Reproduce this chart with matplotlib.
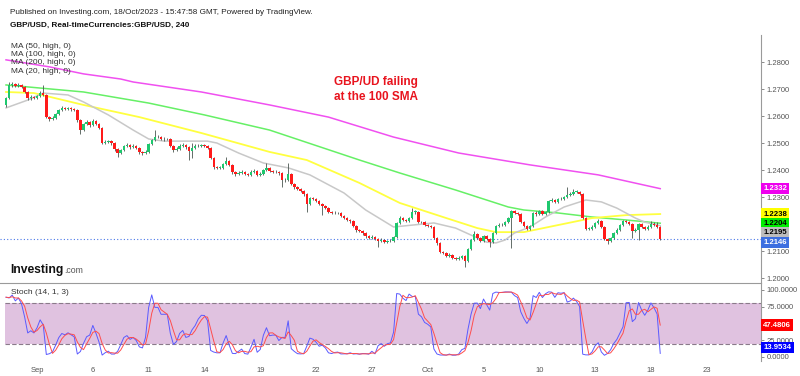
import numpy as np
import pandas as pd
import matplotlib
matplotlib.use("Agg")
import matplotlib.pyplot as plt
import matplotlib.transforms as mtransforms

plt.rcParams['font.family'] = ['Liberation Sans', 'DejaVu Sans']

# GBP/USD 4h candles, values in pips above 1.2000 (price = 1.2 + v / 10000)
first_open_pips = 642
close_pips = [
    668, 716, 720, 712, 716, 708, 690, 668, 671, 668,
    675, 686, 679, 597, 590, 594, 608, 623, 631, 627,
    631, 627, 623, 586, 549, 571, 579, 568, 583, 571,
    557, 501, 505, 508, 501, 479, 464, 475, 490, 494,
    486, 490, 483, 468, 464, 468, 497, 512, 523, 523,
    516, 516, 516, 490, 475, 479, 490, 494, 486, 472,
    483, 490, 490, 494, 490, 483, 446, 412, 409, 409,
    423, 434, 420, 394, 386, 390, 394, 386, 383, 394,
    397, 383, 386, 401, 409, 397, 394, 394, 390, 364,
    364, 386, 349, 338, 331, 323, 312, 275, 297, 294,
    286, 275, 268, 260, 246, 242, 242, 242, 231, 223,
    216, 212, 194, 179, 175, 168, 157, 149, 153, 146,
    138, 142, 135, 138, 138, 153, 205, 223, 216, 212,
    223, 246, 246, 208, 208, 197, 194, 190, 149, 131,
    97, 94, 83, 86, 75, 72, 75, 83, 64, 108,
    142, 164, 149, 138, 157, 146, 135, 168, 194, 197,
    197, 208, 223, 249, 242, 238, 208, 194, 183, 194,
    242, 238, 249, 238, 246, 286, 290, 283, 294, 294,
    301, 309, 312, 320, 320, 312, 223, 183, 183, 190,
    205, 212, 190, 146, 138, 149, 168, 179, 197, 212,
    208, 201, 175, 179, 201, 190, 183, 190, 201, 197,
    190, 146,
]
high_pips = [
    672, 727, 727, 725, 722, 720, 712, 694, 678, 676,
    680, 692, 716, 683, 600, 600, 612, 628, 638, 636,
    635, 634, 632, 627, 590, 576, 586, 584, 590, 587,
    575, 560, 512, 514, 512, 505, 484, 480, 495, 500,
    498, 497, 495, 487, 472, 474, 502, 517, 549, 530,
    528, 522, 521, 520, 494, 485, 496, 500, 498, 490,
    500, 496, 496, 499, 498, 495, 487, 450, 416, 415,
    428, 449, 438, 424, 398, 396, 400, 398, 390, 400,
    403, 401, 392, 406, 427, 413, 402, 400, 398, 394,
    370, 427, 390, 353, 343, 336, 327, 316, 302, 301,
    298, 290, 279, 272, 264, 250, 248, 247, 246, 235,
    227, 220, 216, 198, 184, 179, 172, 161, 159, 157,
    150, 148, 146, 143, 144, 158, 210, 230, 228, 220,
    228, 260, 252, 250, 213, 212, 201, 198, 194, 153,
    135, 101, 98, 92, 90, 80, 81, 88, 88, 112,
    147, 175, 168, 153, 162, 161, 150, 173, 199, 203,
    203, 213, 228, 254, 253, 246, 242, 212, 198, 199,
    247, 248, 254, 253, 251, 291, 296, 294, 299, 300,
    306, 338, 318, 331, 326, 324, 316, 227, 189, 196,
    210, 218, 216, 194, 150, 154, 173, 185, 202, 217,
    216, 212, 205, 185, 206, 205, 194, 196, 212, 210,
    210, 194,
]
low_pips = [
    635, 664, 710, 707, 708, 703, 685, 662, 660, 663,
    664, 671, 674, 592, 583, 586, 590, 604, 619, 622,
    622, 621, 618, 580, 534, 545, 566, 562, 564, 566,
    552, 497, 496, 500, 495, 472, 449, 460, 470, 485,
    480, 482, 478, 462, 458, 460, 465, 492, 508, 518,
    511, 510, 511, 485, 468, 470, 475, 486, 480, 438,
    446, 478, 485, 486, 485, 478, 440, 405, 403, 404,
    405, 420, 415, 388, 380, 382, 386, 381, 378, 380,
    390, 378, 379, 382, 397, 392, 389, 389, 384, 338,
    358, 360, 344, 330, 326, 318, 306, 246, 270, 289,
    281, 270, 234, 255, 240, 237, 237, 238, 226, 218,
    211, 206, 189, 173, 170, 162, 151, 144, 145, 141,
    116, 134, 130, 131, 133, 134, 150, 200, 211, 207,
    208, 219, 238, 203, 203, 192, 189, 185, 144, 125,
    92, 89, 78, 79, 70, 67, 68, 71, 42, 60,
    104, 138, 144, 133, 134, 141, 116, 131, 164, 189,
    192, 192, 204, 112, 237, 233, 203, 189, 178, 179,
    190, 232, 234, 233, 234, 242, 282, 278, 279, 289,
    290, 297, 305, 308, 315, 307, 218, 178, 178, 179,
    186, 201, 185, 141, 127, 134, 145, 164, 175, 193,
    203, 196, 149, 170, 142, 185, 178, 179, 186, 192,
    185, 142,
]

# moving averages of highs, read at candle positions (pips above 1.2000)
ma200_idx = [0, 14, 25, 37, 41, 63, 85, 104, 125, 146, 169, 191, 211]
ma200_pips = [809, 783, 757, 738, 727, 690, 642, 597, 523, 464, 420, 383, 332]
ma100_idx = [0, 25, 46, 64, 85, 114, 127, 145, 162, 167, 178, 189, 200, 211]
ma100_pips = [716, 690, 649, 605, 549, 438, 390, 327, 264, 253, 242, 227, 216, 204]
ma50_idx = [0, 9, 25, 43, 63, 85, 97, 114, 127, 142, 152, 158, 167, 178, 189, 200, 211]
ma50_pips = [690, 686, 642, 597, 538, 468, 438, 353, 279, 223, 186, 171, 171, 197, 223, 234, 238]
ma20_idx = [0, 7, 12, 20, 25, 33, 41, 46, 51, 65, 68, 75, 83, 91, 98, 109, 116, 125,
            131, 138, 145, 150, 155, 158, 161, 164, 169, 174, 180, 187, 192, 197, 203, 206, 211]
ma20_pips = [631, 660, 686, 679, 653, 605, 549, 516, 508, 508, 501, 464, 427, 409, 383, 316, 253, 190,
             197, 205, 186, 160, 134, 131, 142, 168, 190, 227, 264, 290, 283, 260, 223, 208, 195]

date_tick_idx = [10, 28, 46, 64, 82, 100, 118, 136, 154, 172, 190, 208, 226]
date_tick_labels = ['Sep', '6', '11', '14', '19', '22', '27', 'Oct', '5', '10', '13', '18', '23']
price_ticks = [1.20, 1.21, 1.22, 1.23, 1.24, 1.25, 1.26, 1.27, 1.28]
price_tick_labels = ['1.2000', '1.2100', '', '1.2300', '1.2400', '1.2500', '1.2600', '1.2700', '1.2800']
stoch_ticks = [0, 25, 75, 100]

last_price = 1.2146
price_labels = [(1.2332, '#ee00ee', 'white'), (1.2238, '#ffff00', 'black'),
                (1.2204, '#00ee00', 'black'), (1.2195, '#bdbdbd', 'black'),
                (1.2146, '#3d6fe0', 'white')]
stoch_labels = [(47.4806, '#ff0000', 'white'), (13.9534, '#0000ff', 'white')]


def to_price(p):
    return 1.2 + np.asarray(p, dtype=float) / 10000.0


c = to_price(close_pips)
o = np.concatenate([[to_price(first_open_pips)], c[:-1]])
h = np.maximum(to_price(high_pips), np.maximum(o, c))
l = np.minimum(to_price(low_pips), np.minimum(o, c))
idx = np.arange(len(c))

# stochastic (14, 1, 3) from the candles
df = pd.DataFrame({'o': o, 'h': h, 'l': l, 'c': c})
hh = df['h'].rolling(14, min_periods=1).max()
ll = df['l'].rolling(14, min_periods=1).min()
stoch_k = 100 * (df['c'] - ll) / (hh - ll)
stoch_d = stoch_k.rolling(3, min_periods=1).mean()

W, H = 800, 376
fig = plt.figure(figsize=(W / 100, H / 100), dpi=100)
fig.patch.set_facecolor('white')

axis_x = 761
ax = fig.add_axes([0, 1 - 283 / H, axis_x / W, (283 - 35) / H])
ax2 = fig.add_axes([0, 1 - 361 / H, axis_x / W, (361 - 283) / H])

xlim = (-1.94, 243.5)
for a in (ax, ax2):
    a.set_xlim(*xlim)
    a.set_facecolor('white')
    for s in ('left', 'top', 'bottom'):
        a.spines[s].set_visible(False)
    a.spines['right'].set_color('#9a9a9a')
    a.spines['right'].set_linewidth(0.8)
    a.yaxis.tick_right()
    a.tick_params(axis='y', length=2, width=0.6, color='#777777', labelsize=5.5,
                  labelcolor='#555555', pad=2)

ax.set_ylim(1.19826, 1.2901)

# moving averages
ax.plot(ma200_idx, to_price(ma200_pips), color='#f050f0', lw=1.1, zorder=2)
ax.plot(ma100_idx, to_price(ma100_pips), color='#66f066', lw=1.1, zorder=2)
ax.plot(ma50_idx, to_price(ma50_pips), color='#ffff40', lw=1.3, zorder=2)
ax.plot(ma20_idx, to_price(ma20_pips), color='#c8c8c8', lw=1.1, zorder=2)

# candles
up = c >= o
colors = np.where(up, '#1ec86e', '#ff1a1a')
ax.vlines(idx, l, h, color='#4a5650', lw=0.6, zorder=3)
body = np.maximum(np.abs(c - o), 0.00015)
bottom = np.minimum(o, c)
ax.bar(idx, body, bottom=bottom, width=0.8, color=colors, linewidth=0, zorder=4)

ax.axhline(last_price, color='#4a78e8', lw=0.8, ls=(0, (1, 2)), zorder=1)

ax.set_xticks([])
ax.set_yticks(price_ticks)
ax.set_yticklabels(price_tick_labels)

trans = mtransforms.blended_transform_factory(ax.transAxes, ax.transData)
# stack right-hand price labels so they do not overlap
min_gap = 0.0035
prev = None
for val, fc, tc in price_labels:
    y = val if prev is None else min(val, prev - min_gap)
    prev = y
    ax.text(1.003, y, f'{val:.4f}', transform=trans, ha='left', va='center',
            fontsize=5.6, color=tc, fontweight='bold',
            bbox=dict(boxstyle='square,pad=0.3', fc=fc, ec='none'), zorder=6, clip_on=False)

# stochastic panel
ax2.set_ylim(-6.0, 110.4)
ax2.axhspan(20, 80, xmin=5 / axis_x, xmax=1, color='#e0c2e0', lw=0, zorder=0)
ax2.axhline(80, xmin=5 / axis_x, color='#8a7a8a', lw=0.8, ls=(0, (4, 2)), zorder=1)
ax2.axhline(20, xmin=5 / axis_x, color='#8a7a8a', lw=0.8, ls=(0, (4, 2)), zorder=1)
ax2.plot(idx, stoch_k, color='#5a5aff', lw=0.7, zorder=3)
ax2.plot(idx, stoch_d, color='#ff4d4d', lw=0.7, zorder=3)
ax2.spines['top'].set_visible(True)
ax2.spines['top'].set_color('#9a9a9a')
ax2.spines['top'].set_linewidth(0.8)
ax2.set_yticks(stoch_ticks)
ax2.set_yticklabels([f'{v:.4f}' for v in stoch_ticks])
ax2.set_xticks(date_tick_idx)
ax2.set_xticklabels(date_tick_labels)
ax2.tick_params(axis='x', length=0, labelsize=5.5, labelcolor='#555555', pad=4)

trans2 = mtransforms.blended_transform_factory(ax2.transAxes, ax2.transData)
for val, fc, tc in stoch_labels:
    ax2.text(1.003, val, f'{val:.4f}', transform=trans2, ha='left', va='center',
             fontsize=5.6, color=tc, fontweight='bold',
             bbox=dict(boxstyle='square,pad=0.3', fc=fc, ec='none'), zorder=6, clip_on=False)


def ftext(x, y, s, **kw):
    fig.text(x / W, 1 - y / H, s, va='baseline', ha='left', **kw)


ftext(10, 14.5, 'Published on Investing.com, 18/Oct/2023 - 15:47:58 GMT, Powered by TradingView.',
      fontsize=5.9, color='#222222')
ftext(10, 27, 'GBP/USD, Real-timeCurrencies:GBP/USD, 240', fontsize=5.85, color='#111111',
      fontweight='bold')
for k, s in enumerate(['MA (50, high, 0)', 'MA (100, high, 0)', 'MA (200, high, 0)', 'MA (20, high, 0)']):
    ftext(11, 47.5 + 8.5 * k, s, fontsize=6, color='#333333')
ftext(11, 294, 'Stoch (14, 1, 3)', fontsize=6, color='#333333')
ftext(10, 273, 'Investing', fontsize=8.7, color='#111111', fontweight='bold')
ftext(64, 273, '.com', fontsize=6.3, color='#555555')

ftext(334, 84.5, 'GBP/UD failing', fontsize=8.5, color='#e8141e', fontweight='bold')
ftext(334, 100, 'at the 100 SMA', fontsize=8.5, color='#e8141e', fontweight='bold')

fig.savefig('out.png', dpi=100, facecolor='white')
